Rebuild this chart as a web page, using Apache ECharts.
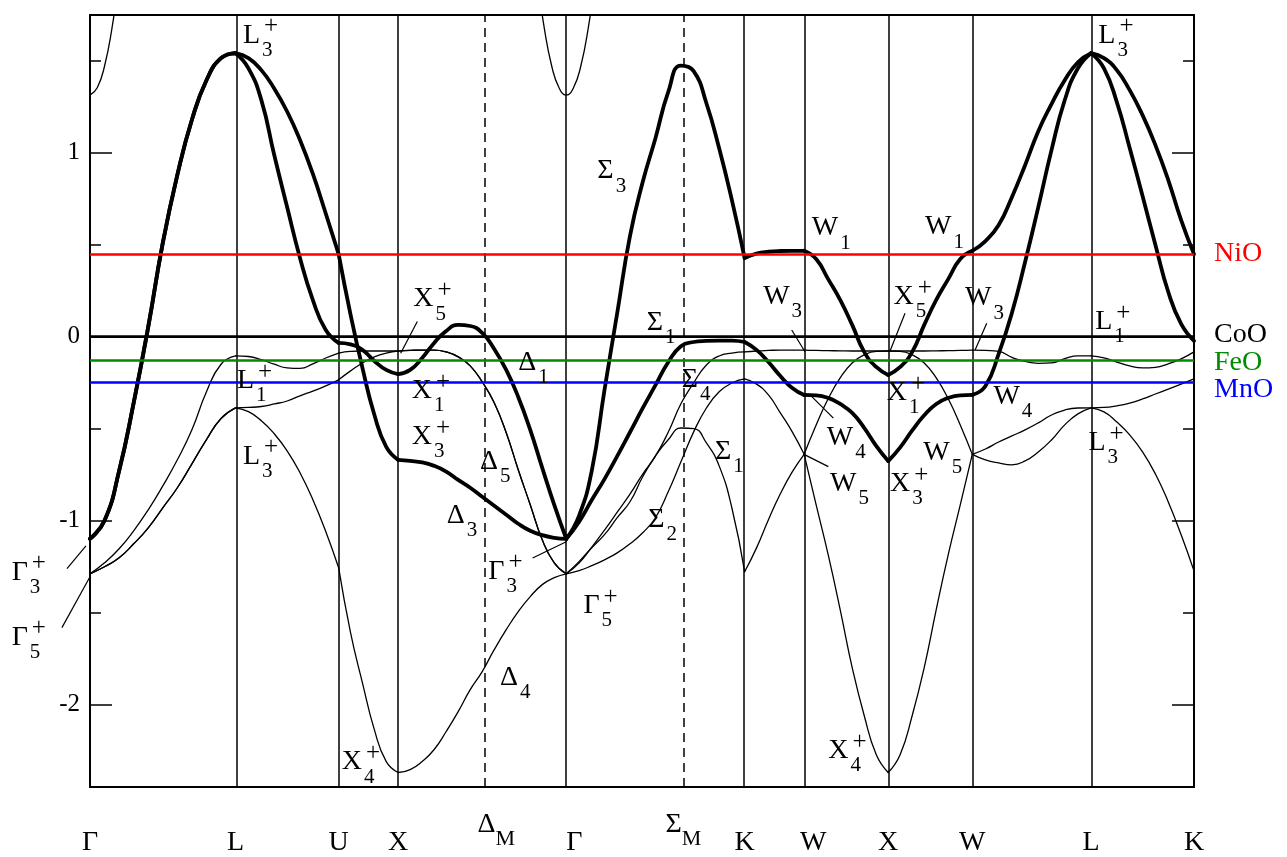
<!DOCTYPE html>
<html><head><meta charset="utf-8">
<script src="https://cdn.jsdelivr.net/npm/echarts@6/dist/echarts.min.js"></script>
<style>html,body{margin:0;padding:0;background:#fff}#c{width:1287px;height:857px}</style>
</head><body><div id="c"></div>
<script>
// ---- high-symmetry path (k in units of 2π/a) ----
const kLabels = ['Γ','L','U','X','ΔM','Γ','ΣM','K','W','X','W','L','K'];
const kPos = [0, 0.866, 1.479, 1.833, 2.345, 2.833, 3.530, 3.894, 4.248, 4.748, 5.248, 5.955, 6.567];
const dashedLabels = ['ΔM','ΣM'];
// band segments between path points (indices into kPos)
const segments = [[0,1],[1,2],[2,3],[3,5],[5,7],[7,8],[8,9],[9,10],[10,11],[11,12]];

// ---- band energies (eV), uniformly sampled along each segment ----
const bandA = [
 [-1.1, -1.00, -0.73, -0.36, 0.053, 0.51, 0.88, 1.18, 1.395, 1.515, 1.542],
 [1.542, 1.515, 1.45, 1.35, 1.225, 1.07, 0.885, 0.67, 0.449],
 [0.449, 0.12, -0.17, -0.425, -0.6, -0.67],
 [-0.67, -0.676, -0.684, -0.703, -0.734, -0.779, -0.822, -0.871, -0.92, -0.969, -1.018, -1.056, -1.08, -1.094, -1.1],
 [-1.1, -0.975, -0.73, -0.29, 0.129, 0.547, 0.841, 1.08, 1.33, 1.475, 1.445, 1.27, 1.025, 0.743, 0.428],
 [0.428, 0.452, 0.462, 0.466, 0.467, 0.467],
 [0.467, 0.422, 0.313, 0.2, 0.064, -0.083, -0.165, -0.208],
 [-0.208, -0.165, -0.083, 0.064, 0.2, 0.313, 0.422, 0.467],
 [0.467, 0.52, 0.607, 0.759, 0.933, 1.118, 1.265, 1.395, 1.493, 1.542],
 [1.542, 1.515, 1.45, 1.341, 1.205, 1.042, 0.852, 0.634, 0.449]
];
const bandB = [
 [-1.1, -1.00, -0.73, -0.36, 0.053, 0.51, 0.88, 1.18, 1.395, 1.515, 1.542],
 [1.542, 1.46, 1.287, 0.988, 0.705, 0.428, 0.199, 0.036, -0.034],
 [-0.034, -0.042, -0.072, -0.132, -0.181, -0.204],
 [-0.204, -0.181, -0.116, -0.034, 0.031, 0.064, 0.058, 0.02, -0.067, -0.181, -0.328, -0.507, -0.714, -0.915, -1.1],
 [-1.1, -1.008, -0.889, -0.775, -0.65, -0.52, -0.389, -0.264, -0.139, -0.052, -0.029, -0.023, -0.021, -0.021, -0.029],
 [-0.029, -0.072, -0.138, -0.214, -0.279, -0.317],
 [-0.317, -0.319, -0.333, -0.366, -0.415, -0.496, -0.594, -0.677],
 [-0.677, -0.602, -0.51, -0.428, -0.366, -0.333, -0.319, -0.317],
 [-0.317, -0.268, -0.094, 0.129, 0.406, 0.705, 1.015, 1.286, 1.46, 1.542],
 [1.542, 1.46, 1.276, 1.026, 0.765, 0.499, 0.243, 0.069, -0.023]
];
const bandC = [
 [-1.29, -1.23, -1.154, -1.056, -0.942, -0.812, -0.67, -0.507, -0.3, -0.15, -0.105],
 [-0.105, -0.108, -0.125, -0.15, -0.17, -0.173, -0.148, -0.116, -0.089],
 [-0.089, -0.08, -0.078, -0.078, -0.078, -0.078],
 [-0.078, -0.075, -0.073, -0.073, -0.083, -0.11, -0.159, -0.246, -0.36, -0.523, -0.724, -0.914, -1.105, -1.23, -1.29],
 [-1.29, -1.232, -1.145, -1.053, -0.955, -0.857, -0.748, -0.65, -0.52, -0.365, -0.251, -0.154, -0.105, -0.089, -0.083],
 [-0.083, -0.078, -0.075, -0.073, -0.073, -0.073],
 [-0.073, -0.075, -0.076, -0.077, -0.078, -0.078, -0.078, -0.078],
 [-0.078, -0.078, -0.078, -0.078, -0.077, -0.076, -0.075, -0.073],
 [-0.073, -0.075, -0.08, -0.113, -0.135, -0.145, -0.143, -0.12, -0.104, -0.105],
 [-0.105, -0.116, -0.138, -0.159, -0.17, -0.167, -0.148, -0.121, -0.083]
];
const bandD = [
 [-1.29, -1.252, -1.203, -1.127, -1.04, -0.931, -0.822, -0.692, -0.56, -0.445, -0.387],
 [-0.387, -0.385, -0.38, -0.366, -0.35, -0.322, -0.296, -0.268, -0.235],
 [-0.235, -0.186, -0.143, -0.11, -0.089, -0.078],
 [-0.078, -0.075, -0.073, -0.073, -0.083, -0.11, -0.159, -0.246, -0.36, -0.523, -0.724, -0.914, -1.105, -1.23, -1.29],
 [-1.29, -1.273, -1.246, -1.214, -1.176, -1.127, -1.067, -0.985, -0.844, -0.681, -0.518, -0.388, -0.3, -0.252, -0.23],
 [-0.23, -0.258, -0.317, -0.415, -0.518, -0.64],
 [-0.64, -0.915, -1.186, -1.485, -1.8, -2.061, -2.273, -2.371],
 [-2.371, -2.273, -2.061, -1.8, -1.485, -1.186, -0.915, -0.64],
 [-0.64, -0.611, -0.573, -0.54, -0.507, -0.469, -0.426, -0.399, -0.388, -0.387],
 [-0.387, -0.385, -0.376, -0.361, -0.339, -0.312, -0.285, -0.258, -0.23]
];
const bandE = [
 [-1.29, -1.252, -1.203, -1.127, -1.04, -0.931, -0.822, -0.692, -0.56, -0.445, -0.387],
 [-0.387, -0.408, -0.457, -0.528, -0.621, -0.74, -0.887, -1.06, -1.257],
 [-1.257, -1.61, -1.883, -2.138, -2.312, -2.371],
 [-2.371, -2.355, -2.311, -2.246, -2.148, -2.04, -1.92, -1.822, -1.703, -1.594, -1.496, -1.414, -1.349, -1.311, -1.29],
 [-1.29, -1.224, -1.148, -1.077, -0.985, -0.898, -0.762, -0.648, -0.561, -0.497, -0.5, -0.578, -0.703, -0.932, -1.279],
 [-1.279, -1.149, -0.996, -0.855, -0.736, -0.64],
 [-0.64, -0.48, -0.338, -0.224, -0.143, -0.099, -0.08, -0.078],
 [-0.078, -0.08, -0.099, -0.143, -0.224, -0.338, -0.48, -0.64],
 [-0.64, -0.67, -0.687, -0.697, -0.676, -0.627, -0.562, -0.48, -0.42, -0.387],
 [-0.387, -0.409, -0.464, -0.534, -0.627, -0.747, -0.899, -1.078, -1.274]
];
// upper band near Γ, as [k, E] points
const bandFLeft = [[0,1.314],[0.043,1.354],[0.087,1.474],[0.13,1.675],[0.174,1.956],[0.217,2.317]];
const bandFMid = [[2.616,2.317],[2.659,1.956],[2.703,1.675],[2.746,1.474],[2.79,1.354],[2.833,1.314],
                  [2.876,1.354],[2.92,1.474],[2.963,1.675],[3.007,1.956],[3.05,2.317]];

// ---- reference levels ----
const refNames = ['NiO','CoO','FeO','MnO'];
const refLevels = [0.45, 0, -0.13, -0.25];
const refColors = ['#ff0000','#000000','#008b00','#0000ff'];

// ---- y range ----
const yMin = -2.45, yMax = 1.75;

// ---- annotations: [k, E, main, sub, sup] ----
const bandLabels = [
 [0.910, 1.640, 'L','3','+'], [0.874, -0.241, 'L','1','+'], [0.910, -0.651, 'L','3','+'],
 [-0.466, -1.282, 'Γ','3','+'], [-0.466, -1.635, 'Γ','5','+'], [1.497, -2.314, 'X','4','+'],
 [1.923, 0.205, 'X','5','+'], [1.914, -0.295, 'X','1','+'], [1.914, -0.543, 'X','3','+'],
 [2.548, -0.140, 'Δ','1',''], [2.320, -0.681, 'Δ','5',''], [2.122, -0.974, 'Δ','3',''],
 [2.369, -1.277, 'Γ','3','+'], [2.439, -1.855, 'Δ','4',''], [2.935, -1.464, 'Γ','5','+'],
 [3.018, 0.901, 'Σ','3',''], [3.312, 0.077, 'Σ','1',''], [3.520, -0.235, 'Σ','4',''],
 [3.718, -0.625, 'Σ','1',''], [3.321, -0.996, 'Σ','2',''],
 [4.293, 0.591, 'W','1',''], [4.967, 0.596, 'W','1',''], [4.779, 0.216, 'X','5','+'],
 [4.004, 0.216, 'W','3',''], [5.205, 0.210, 'W','3',''], [5.979, 0.080, 'L','1','+'],
 [4.739, -0.306, 'X','1','+'], [5.374, -0.328, 'W','4',''], [4.383, -0.548, 'W','4',''],
 [4.402, -0.801, 'W','5',''], [4.759, -0.801, 'X','3','+'], [4.957, -0.632, 'W','5',''],
 [5.939, -0.578, 'L','3','+'], [5.998, 1.640, 'L','3','+'], [4.392, -2.252, 'X','4','+']
];
// leader lines [k1, E1, k2, E2]
const leaders = [
 [-0.137, -1.262, -0.024, -1.138], [-0.167, -1.583, 0, -1.306],
 [1.947, 0.082, 1.848, -0.09], [2.633, -1.204, 2.836, -1.114],
 [4.848, 0.127, 4.759, -0.078], [4.174, 0.036, 4.253, -0.082],
 [5.334, 0.073, 5.265, -0.072], [4.422, -0.443, 4.283, -0.317],
 [4.392, -0.707, 4.253, -0.643]
];

// ---------------- build chart ----------------
const FAM = 'Liberation Serif';
const chart = echarts.init(document.getElementById('c'), null, {renderer:'canvas'});
const series = [];
function addBand(band, width) {
  band.forEach((vals, s) => {
    const k0 = kPos[segments[s][0]], k1 = kPos[segments[s][1]], n = vals.length;
    series.push({type:'line', data: vals.map((E,i)=>[k0+(k1-k0)*i/(n-1), E]),
      smooth:0.5, showSymbol:false, symbol:'none', silent:true, z:4,
      lineStyle:{color:'#000', width, cap:'round', join:'round'}});
  });
}
addBand(bandC, 1.3); addBand(bandD, 1.3); addBand(bandE, 1.3);
addBand(bandA, 3.8); addBand(bandB, 3.8);
[bandFLeft, bandFMid].forEach(d => series.push({type:'line', data:d, smooth:0.5, showSymbol:false, symbol:'none',
  silent:true, z:4, lineStyle:{color:'#000', width:1.3}}));

// vertical lines + reference levels
const vData = [];
kPos.forEach((k,i) => {
  if (i === 0 || i === kPos.length-1) return;
  const dashed = dashedLabels.includes(kLabels[i]);
  vData.push({xAxis:k, lineStyle:{color:'#000', width:1.5, type: dashed ? [9,6] : 'solid'}});
});
refLevels.forEach((v,i) => vData.push({yAxis:v, lineStyle:{color:refColors[i], width:2.5, type:'solid'}}));
series.push({type:'line', data:[], z:2, silent:true,
  markLine:{symbol:'none', silent:true, animation:false, label:{show:false}, data:vData}});

function xLabel(v) {
  let idx = 0, best = 1e9;
  kPos.forEach((k,i)=>{ const d = Math.abs(k-v); if (d<best){best=d; idx=i;} });
  const t = kLabels[idx];
  if (t === 'ΔM') return '{d|Δ}{m|M}';
  if (t === 'ΣM') return '{s|Σ}{m|M}';
  if (idx === 5) return '{pr|Γ}';
  if (idx === 8) return '{pw|W}';
  return '{p|' + t + '}';
}
const tickAxis = (pos, split, len, labels) => ({
  type:'value', position:pos, min:yMin, max:yMax, splitNumber:split, gridIndex:0,
  axisLine:{show: labels, lineStyle:{color:'#000', width:2}},
  axisTick:{show:true, inside:true, length:len, lineStyle:{color:'#000', width:1.5}},
  axisLabel:{show: labels, showMinLabel:false, showMaxLabel:false, margin:10, color:'#000',
    fontSize:25, fontFamily:FAM},
  splitLine:{show:false}
});

const option = {
  animation:false,
  backgroundColor:'#fff',
  grid:{left:90, right:93, top:15, bottom:69, show:true, borderColor:'#000', borderWidth:2, backgroundColor:'transparent'},
  xAxis:{type:'value', min:0, max:kPos[kPos.length-1],
    axisLine:{show:true, lineStyle:{color:'#000', width:2}},
    axisTick:{show:false}, splitLine:{show:false},
    axisLabel:{customValues:kPos, formatter:xLabel, margin:24, color:'#000',
      rich:{
        p:{fontSize:28, fontFamily:FAM, lineHeight:64, color:'#000'},
        pr:{fontSize:28, fontFamily:FAM, lineHeight:64, color:'#000', padding:[0,0,0,16]},
        pw:{fontSize:28, fontFamily:FAM, lineHeight:64, color:'#000', padding:[0,0,0,18]},
        d:{fontSize:28, fontFamily:FAM, lineHeight:28, verticalAlign:'top', color:'#000', padding:[0,0,0,24]},
        s:{fontSize:28, fontFamily:FAM, lineHeight:28, verticalAlign:'top', color:'#000'},
        m:{fontSize:22, fontFamily:FAM, lineHeight:39, verticalAlign:'bottom', color:'#000'}
      }}},
  yAxis:[tickAxis('left',4,22,true), tickAxis('left',8,11,false), tickAxis('right',4,22,false), tickAxis('right',8,11,false)],
  series
};
chart.setOption(option);

// ---- text annotations placed through the chart's coordinate system ----
const ctx = document.createElement('canvas').getContext('2d');
const MAIN = 28, SUB = 21, SUP = 25;
function txt(x, y, t, size, color) {
  return {type:'text', x, y, z:100, silent:true,
    style:{text:t, fontSize:size, fontFamily:FAM, fill:color||'#000', align:'left', verticalAlign:'middle'}};
}
const toPx = (k,E) => chart.convertToPixel({xAxisIndex:0, yAxisIndex:0}, [k,E]);
const g = [];
bandLabels.forEach(([k,E,m,s,p]) => {
  const [x,y] = toPx(k,E);
  ctx.font = MAIN + 'px "' + FAM + '"';
  const w = ctx.measureText(m).width;
  g.push(txt(x, y, m, MAIN));
  if (s) g.push(txt(x + w + 2, y + 15, s, SUB));
  if (p) g.push(txt(x + w + 4, y - 8.5, p, SUP));
});
leaders.forEach(([k1,E1,k2,E2]) => {
  const [x1,y1] = toPx(k1,E1), [x2,y2] = toPx(k2,E2);
  g.push({type:'line', z:100, silent:true, shape:{x1,y1,x2,y2}, style:{stroke:'#000', lineWidth:1.2}});
});
const refShift = [0, -2, 2, 7];
refNames.forEach((n,i) => {
  const [x,y] = toPx(kPos[kPos.length-1], refLevels[i]);
  g.push(txt(x + 20, y + refShift[i], n, 28, refColors[i]));
});
chart.setOption({graphic:g});
</script></body></html>
